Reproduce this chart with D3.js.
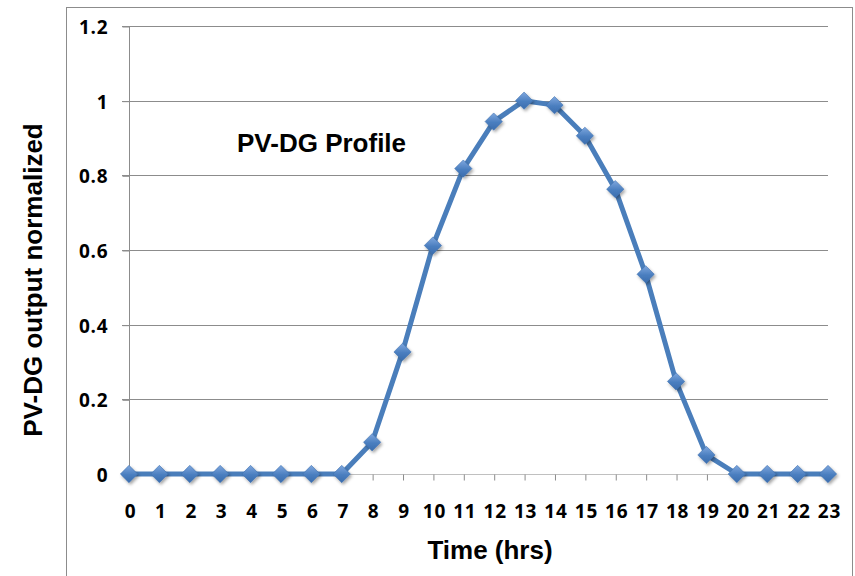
<!DOCTYPE html>
<html><head><meta charset="utf-8">
<script src="https://cdn.jsdelivr.net/npm/d3@7"></script>
<style>
html,body{margin:0;padding:0;background:#fff;}
svg{display:block;}
.tick-lab{font-family:"Open Sans",Lato,sans-serif;font-weight:700;font-size:19px;letter-spacing:0.8px;fill:#000;}
.ttl{font-family:"Liberation Sans",Arial,sans-serif;font-weight:700;font-size:26px;fill:#000;}
</style></head>
<body>
<svg id="c" width="855" height="576"></svg>
<script>
const hours = ["0","1","2","3","4","5","6","7","8","9","10","11","12","13","14","15","16","17","18","19","20","21","22","23"];
const pvOutput = [0,0,0,0,0,0,0,0,0.085,0.327,0.612,0.818,0.944,1.0,0.988,0.906,0.763,0.535,0.248,0.051,0,0,0,0];
const yTicks = [0,0.2,0.4,0.6,0.8,1,1.2];
const yTickLabels = ["0","0.2","0.4","0.6","0.8","1","1.2"];
const chartTitle = "PV-DG Profile";
const xTitle = "Time (hrs)";
const yTitle = "PV-DG output normalized";

const svg = d3.select("#c");
const defs = svg.append("defs");
const grad = defs.append("linearGradient").attr("id","mg").attr("x1","0").attr("y1","0").attr("x2","0").attr("y2","1");
grad.append("stop").attr("offset","0%").attr("stop-color","#7fa7de");
grad.append("stop").attr("offset","55%").attr("stop-color","#4a7ebf");
grad.append("stop").attr("offset","100%").attr("stop-color","#3b6dae");
const f = defs.append("filter").attr("id","sh").attr("x","-50%").attr("y","-50%").attr("width","200%").attr("height","200%");
f.append("feDropShadow").attr("dx",1.5).attr("dy",2).attr("stdDeviation",1.5).attr("flood-color","#000").attr("flood-opacity",0.35);

// outer frame
svg.append("rect").attr("x",66.5).attr("y",7.5).attr("width",786).attr("height",580)
  .attr("fill","none").attr("stroke","#8c8c8c").attr("stroke-width",1);

const x = d3.scalePoint().domain(hours).range([129,828]);
const y = d3.scaleLinear().domain([0,1.2]).range([474,26]);

// gridlines
svg.append("g").selectAll("line").data(yTicks.filter(d=>d>0)).join("line")
  .attr("x1",122).attr("x2",828).attr("y1",d=>Math.round(y(d))+0.5).attr("y2",d=>Math.round(y(d))+0.5)
  .attr("stroke","#8c8c8c").attr("stroke-width",1);

// y axis
const yAxis = d3.axisLeft(y).tickValues(yTicks).tickSize(7).tickFormat((d,i)=>yTickLabels[i]);
const gy = svg.append("g").attr("transform","translate(129.5,0.5)").call(yAxis);
gy.select(".domain").attr("stroke","#8c8c8c").attr("d","M0,"+Math.round(y(1.2))+"V"+Math.round(y(0)));
gy.selectAll(".tick line").attr("stroke","#8c8c8c");
gy.selectAll(".tick text").attr("class","tick-lab").attr("x",-21).attr("dy","0.36em");

// x axis
const xAxis = d3.axisBottom(x).tickSize(6).tickSizeOuter(0);
const gx = svg.append("g").attr("transform","translate(0.5,"+(Math.round(y(0))+0.5)+")").call(xAxis);
gx.select(".domain").attr("stroke","#c0c0c0").attr("d","M"+(x("0")-7)+",0H"+x("23"));
gx.selectAll(".tick line").attr("stroke","#8c8c8c");
gx.selectAll(".tick text").attr("class","tick-lab").attr("y",37).attr("dy","0.36em").attr("dx","0.5px");

// line
const line = d3.line().x((d,i)=>x(hours[i])).y(d=>y(d));
svg.append("path").datum(pvOutput).attr("d",line).attr("fill","none")
  .attr("stroke","#4a7ebb").attr("stroke-width",5).attr("stroke-linejoin","round");

// markers
const sym = d3.symbol().type(d3.symbolDiamond2).size(190);
svg.append("g").selectAll("path").data(pvOutput).join("path")
  .attr("d",sym).attr("transform",(d,i)=>"translate("+x(hours[i])+","+y(d)+")")
  .attr("fill","url(#mg)").attr("stroke","#3f72b0").attr("stroke-width",0.6).attr("filter","url(#sh)");

// titles
svg.append("text").attr("class","ttl").attr("x",237).attr("y",152).text(chartTitle);
svg.append("text").attr("class","ttl").attr("x",490).attr("y",559).attr("text-anchor","middle").text(xTitle);
svg.append("text").attr("class","ttl").attr("transform","translate(42,280) rotate(-90)").attr("text-anchor","middle").text(yTitle);
</script>
</body></html>
